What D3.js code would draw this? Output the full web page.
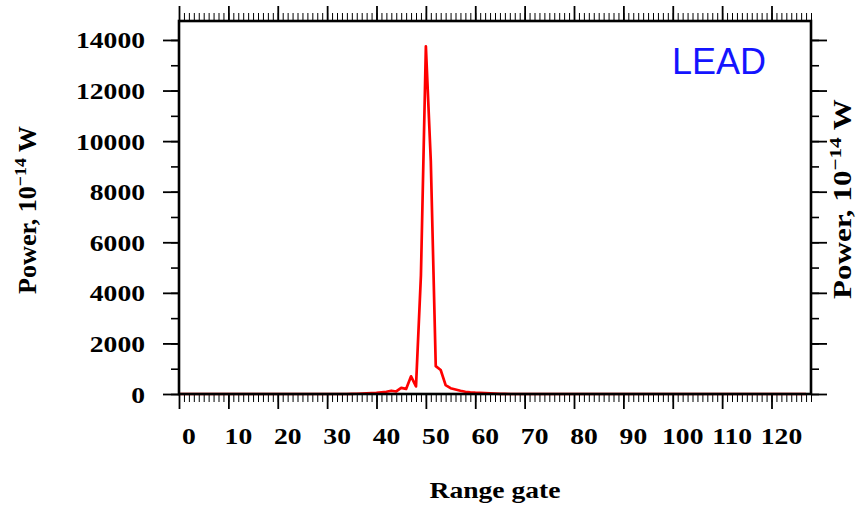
<!DOCTYPE html>
<html>
<head>
<meta charset="utf-8">
<script src="https://cdn.jsdelivr.net/npm/d3@7"></script>
<style>
  body { margin: 0; background: #fff; }
</style>
</head>
<body>
<div id="chart"></div>
<script>
// tick labels
var xTicks = [0, 10, 20, 30, 40, 50, 60, 70, 80, 90, 100, 110, 120];
var yTicks = [0, 2000, 4000, 6000, 8000, 10000, 12000, 14000];

// received power per range gate (gate = index), 10^-14 W
var power = [
  0, 0, 0, 0, 0, 0, 0, 0, 0, 0,
  0, 0, 0, 0, 0, 0, 0, 0, 0, 0,
  0, 0, 0, 0, 0, 0, 0, 0, 0, 0,
  0, 0, 0, 0, 0, 5, 10, 20, 30, 40,
  50, 70, 90, 130, 100, 240, 200, 700, 300, 4700,
  13750, 9200, 1100, 950, 350, 230, 180, 130, 90, 70,
  55, 45, 35, 25, 15, 8, 5, 0, 0, 0,
  0, 0, 0, 0, 0, 0, 0, 0, 0, 0,
  0, 0, 0, 0, 0, 0, 0, 0, 0, 0,
  0, 0, 0, 0, 0, 0, 0, 0, 0, 0,
  0, 0, 0, 0, 0, 0, 0, 0, 0, 0,
  0, 0, 0, 0, 0, 0, 0, 0, 0, 0,
  0, 0, 0, 0, 0, 0, 0, 0
];

var W = 859, H = 506;
var margin = {top: 21, right: 48, bottom: 112, left: 179},
    width = W - margin.left - margin.right,
    height = H - margin.top - margin.bottom;

var serif = "'Liberation Serif', 'Times New Roman', serif";
var stretch = 1.15;

var svg = d3.select("#chart")
  .append("svg")
  .attr("width", W)
  .attr("height", H);

var g = svg.append("g")
  .attr("transform", "translate(" + margin.left + "," + margin.top + ")");

var x = d3.scaleLinear().domain([0, 128]).range([0, width]);
var y = d3.scaleLinear().domain([0, 14750]).range([height, 0]);

var xMinor = d3.range(0, 129);
var yMinor = d3.range(0, 15000, 1000);

function clean(sel, w) {
  sel.select(".domain").remove();
  sel.selectAll(".tick line").attr("stroke", "#000").attr("stroke-width", w);
}

// the line, drawn under the frame
var line = d3.line()
  .x(function(d, i) { return x(i); })
  .y(function(d) { return y(d); });

g.append("path")
  .datum(power)
  .attr("fill", "none")
  .attr("stroke", "#ff0000")
  .attr("stroke-width", 2.7)
  .attr("stroke-linejoin", "round")
  .attr("d", line);

// bottom ticks
g.append("g").attr("transform", "translate(0," + height + ")")
  .call(d3.axisBottom(x).tickValues(xMinor).tickSize(8).tickFormat(""))
  .call(clean, 1);
g.append("g").attr("transform", "translate(0," + height + ")")
  .call(d3.axisBottom(x).tickValues(xTicks).tickSize(15).tickFormat(""))
  .call(clean, 1.8);

// top ticks
g.append("g")
  .call(d3.axisTop(x).tickValues(xMinor).tickSize(8).tickFormat(""))
  .call(clean, 1);
g.append("g")
  .call(d3.axisTop(x).tickValues(xTicks).tickSize(15).tickFormat(""))
  .call(clean, 1.8);

// left ticks
g.append("g")
  .call(d3.axisLeft(y).tickValues(yMinor).tickSize(8).tickFormat(""))
  .call(clean, 1.6);
g.append("g")
  .call(d3.axisLeft(y).tickValues(yTicks).tickSize(16).tickFormat(""))
  .call(clean, 1.8);

// right ticks
g.append("g").attr("transform", "translate(" + width + ",0)")
  .call(d3.axisRight(y).tickValues(yMinor).tickSize(8).tickFormat(""))
  .call(clean, 1.6);
g.append("g").attr("transform", "translate(" + width + ",0)")
  .call(d3.axisRight(y).tickValues(yTicks).tickSize(16).tickFormat(""))
  .call(clean, 1.8);

// frame
g.append("rect")
  .attr("x", 0).attr("y", 0)
  .attr("width", width).attr("height", height)
  .attr("fill", "none")
  .attr("stroke", "#000")
  .attr("stroke-width", 2.6);

// x tick labels
g.selectAll(".xlab")
  .data(xTicks)
  .enter().append("text")
  .attr("class", "xlab")
  .attr("transform", function(d) { return "translate(" + (x(d) + 10) + "," + (height + 50) + ") scale(" + stretch + ",1)"; })
  .attr("text-anchor", "middle")
  .style("font-family", serif)
  .style("font-weight", "bold")
  .style("font-size", "24px")
  .text(function(d) { return d; });

// y tick labels
g.selectAll(".ylab")
  .data(yTicks)
  .enter().append("text")
  .attr("class", "ylab")
  .attr("transform", function(d) { return "translate(-34," + (y(d) + 8.5) + ") scale(" + stretch + ",1)"; })
  .attr("text-anchor", "end")
  .style("font-family", serif)
  .style("font-weight", "bold")
  .style("font-size", "24px")
  .text(function(d) { return d; });

// x title
svg.append("text")
  .attr("transform", "translate(" + (margin.left + width / 2) + ",498) scale(" + stretch + ",1)")
  .attr("text-anchor", "middle")
  .style("font-family", serif)
  .style("font-weight", "bold")
  .style("font-size", "24px")
  .text("Range gate");

// y titles
function yTitle(cx, cy, size, len) {
  var t = svg.append("text")
    .attr("text-anchor", "middle")
    .style("font-family", serif)
    .style("font-weight", "bold")
    .style("font-size", size + "px");
  t.append("tspan").text("Power, 10");
  t.append("tspan").attr("dy", -size * 0.4).style("font-size", (size * 0.68) + "px").text("\u221214");
  t.append("tspan").attr("dy", size * 0.4).text(" W");
  var k = len / t.node().getComputedTextLength();
  t.attr("transform", "translate(" + cx + "," + cy + ") rotate(-90) scale(" + k + ",1)");
}
yTitle(36, 210, 26, 168);
yTitle(851, 199, 26, 200);

// label inside the plot
svg.append("text")
  .attr("x", 672)
  .attr("y", 74)
  .style("font-family", "'Liberation Sans', Arial, sans-serif")
  .style("font-size", "36px")
  .attr("fill", "#1414ff")
  .text("LEAD");
</script>
</body>
</html>
